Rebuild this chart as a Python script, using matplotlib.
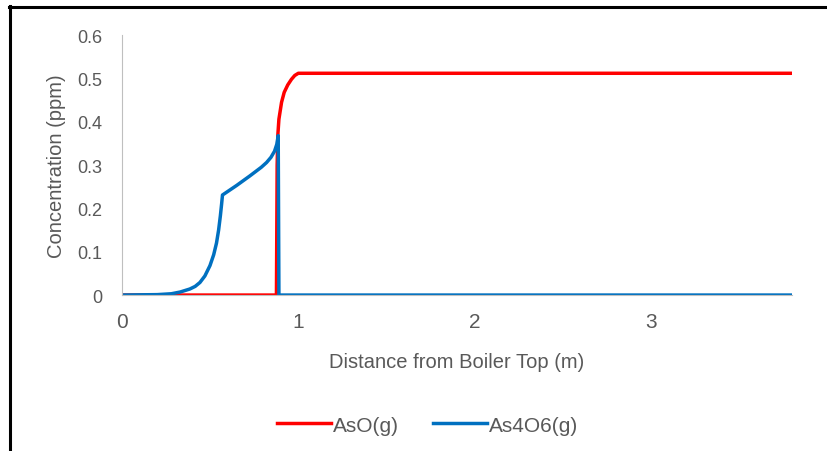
import matplotlib.pyplot as plt
from matplotlib.lines import Line2D

plt.rcParams['font.family'] = ['Liberation Sans', 'DejaVu Sans']

# AsO(g)
aso_x = [0.0, 0.3, 0.6, 0.876, 0.880, 0.884, 0.89, 0.905, 0.92, 0.94, 0.961, 0.98, 1.0, 2.0, 3.0, 3.8]
aso_y = [0.0, 0.0, 0.0, 0.0, 0.30, 0.37, 0.406, 0.445, 0.468, 0.485, 0.498, 0.507, 0.512, 0.512, 0.512, 0.512]

# As4O6(g)
as4_x = [0.0, 0.2, 0.28, 0.33, 0.385, 0.415, 0.442, 0.47, 0.499, 0.52, 0.536, 0.548, 0.558, 0.565, 0.570,
         0.65, 0.725, 0.79, 0.82, 0.845, 0.865, 0.878, 0.886,
         0.89, 1.0, 2.0, 3.0, 3.8]
as4_y = [0.0, 0.001, 0.003, 0.007, 0.014, 0.02, 0.029, 0.044, 0.068, 0.093, 0.12, 0.15, 0.183, 0.21, 0.231,
         0.253, 0.275, 0.295, 0.306, 0.318, 0.332, 0.348, 0.368,
         0.0, 0.0, 0.0, 0.0, 0.0]

xticks = [0, 1, 2, 3]
yticks = [0, 0.1, 0.2, 0.3, 0.4, 0.5, 0.6]
ytick_labels = ['0', '0.1', '0.2', '0.3', '0.4', '0.5', '0.6']

grey = '#595959'

fig = plt.figure(figsize=(8.27, 4.52), dpi=100)
ax = fig.add_axes([0.1475, 0.345, 0.8102, 0.575])

ax.plot(aso_x, aso_y, color='#FF0000', linewidth=2.5, label='AsO(g)', solid_joinstyle='round')
ax.plot(as4_x, as4_y, color='#0070C0', linewidth=2.5, label='As4O6(g)', solid_joinstyle='round')

ax.set_xlim(0, 3.8)
ax.set_ylim(0, 0.6)
ax.set_xticks(xticks)
ax.set_xticklabels([str(t) for t in xticks])
ax.set_yticks(yticks)
ax.set_yticklabels(ytick_labels)
ax.tick_params(axis='x', length=0, labelsize=15, colors=grey, pad=12)
ax.tick_params(axis='y', length=0, labelsize=13, colors=grey, pad=14)

for side in ['top', 'right']:
    ax.spines[side].set_visible(False)
ax.spines['left'].set_color('#BFBFBF')
ax.spines['bottom'].set_color('#BFBFBF')

ax.set_xlabel('Distance from Boiler Top (m)', fontsize=14.5, color=grey, labelpad=15)
ax.set_ylabel('Concentration (ppm)', fontsize=14.5, color=grey, labelpad=8)

leg = ax.legend(loc='center', bbox_to_anchor=(0.456, -0.5), ncol=2, frameon=False,
                fontsize=15, handlelength=2.6, handletextpad=0.1, columnspacing=1.6)
for t in leg.get_texts():
    t.set_color(grey)

# outer frame (top and left edges visible)
fig.add_artist(Line2D([9.5 / 827, 9.5 / 827], [0, 1 - 6.5 / 452], color='black',
                      linewidth=2.2, transform=fig.transFigure))
fig.add_artist(Line2D([8.5 / 827, 1], [1 - 7.5 / 452, 1 - 7.5 / 452], color='black',
                      linewidth=2.2, transform=fig.transFigure))

plt.savefig('out.png', dpi=100)
plt.close()
